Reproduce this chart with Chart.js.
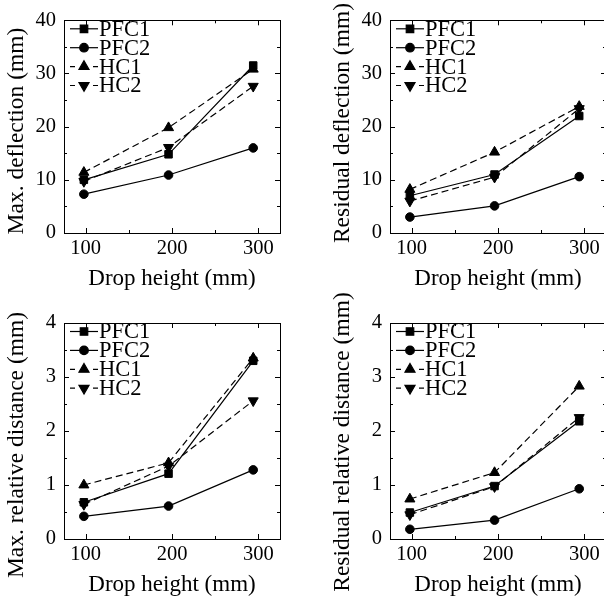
<!DOCTYPE html>
<html><head><meta charset="utf-8">
<script src="https://cdn.jsdelivr.net/npm/chart.js@4"></script>
<style>
html,body{margin:0;padding:0;background:#fff;overflow:hidden;width:604px;height:596px;position:relative;}
.panel{position:absolute;width:302px;}
canvas{display:block;}
</style></head><body>
<div class="panel" style="left:0;top:0"><canvas id="c1" width="302" height="293"></canvas></div>
<div class="panel" style="left:326px;top:0"><canvas id="c2" width="302" height="293"></canvas></div>
<div class="panel" style="left:0;top:290px"><canvas id="c3" width="302" height="309"></canvas></div>
<div class="panel" style="left:326px;top:290px"><canvas id="c4" width="302" height="309"></canvas></div>
<script>
// ---- data ----
const seriesNames = ["PFC1", "PFC2", "HC1", "HC2"];
const dropHeights = [98, 196, 294];
const xTickValues = [100, 200, 300];
const xMinorTicks = [150, 250];
const deflTicks = [0, 10, 20, 30, 40];
const deflMinor = [5, 15, 25, 35];
const distTicks = [0, 1, 2, 3, 4];
const distMinor = [0.5, 1.5, 2.5, 3.5];

const maxDefl_PFC1 = [10.0, 14.8, 31.5];
const maxDefl_PFC2 = [7.3, 10.9, 16.0];
const maxDefl_HC1 = [11.4, 19.8, 30.8];
const maxDefl_HC2 = [9.7, 16.1, 27.6];

const resDefl_PFC1 = [7.0, 11.0, 22.0];
const resDefl_PFC2 = [3.0, 5.1, 10.6];
const resDefl_HC1 = [8.2, 15.2, 23.8];
const resDefl_HC2 = [6.0, 10.5, 23.4];

const maxDist_PFC1 = [0.68, 1.21, 3.30];
const maxDist_PFC2 = [0.42, 0.61, 1.28];
const maxDist_HC1 = [1.00, 1.41, 3.35];
const maxDist_HC2 = [0.64, 1.35, 2.56];

const resDist_PFC1 = [0.49, 0.98, 2.18];
const resDist_PFC2 = [0.18, 0.35, 0.93];
const resDist_HC1 = [0.74, 1.23, 2.83];
const resDist_HC2 = [0.45, 0.97, 2.25];

// ---- styles ----
const FONT = "'Liberation Serif','Times New Roman',serif";
const pointStyles = ["rect", "circle", "triangle", "triangle"];
const pointRotations = [0, 0, 0, 180];
const pointRadii = [5.3, 4.3, 5.8, 5.8];
const dashes = [[], [], [7, 4], [7, 4]];

const framePlugin = {
  id: 'frameTicks',
  afterDraw(chart, args, opts) {
    const {ctx, chartArea: a, scales} = chart;
    const xs = scales.x, ys = scales.y;
    ctx.save();
    ctx.strokeStyle = '#000';
    ctx.lineWidth = 1;
    ctx.strokeRect(Math.round(a.left) + 0.5, Math.round(a.top) + 0.5, Math.round(a.right - a.left), Math.round(a.bottom - a.top));
    ctx.beginPath();
    const tick = (vals, len, horiz) => {
      vals.forEach(v => {
        if (horiz) {
          const px = Math.round(xs.getPixelForValue(v)) + 0.5;
          ctx.moveTo(px, a.bottom); ctx.lineTo(px, a.bottom - len);
          ctx.moveTo(px, a.top); ctx.lineTo(px, a.top + len);
        } else {
          const py = Math.round(ys.getPixelForValue(v)) + 0.5;
          ctx.moveTo(a.left, py); ctx.lineTo(a.left + len, py);
          ctx.moveTo(a.right, py); ctx.lineTo(a.right - len, py);
        }
      });
    };
    tick(xTickValues, 5, true);
    tick(xMinorTicks, 3, true);
    tick(opts.yMajor, 5, false);
    tick(opts.yMinor, 3, false);
    ctx.stroke();
    // y title
    ctx.fillStyle = '#000';
    ctx.font = '23.5px ' + FONT;
    ctx.textAlign = 'center';
    ctx.textBaseline = 'middle';
    ctx.translate(opts.titleX, opts.titleY);
    ctx.rotate(-Math.PI / 2);
    ctx.fillText(opts.title, 0, 0);
    ctx.restore();
  }
};

const legendPlugin = {
  id: 'innerLegend',
  afterDatasetsDraw(chart, args, opts) {
    const {ctx, chartArea: a} = chart;
    ctx.save();
    chart.data.datasets.forEach((ds, i) => {
      const y = a.top + opts.top + i * opts.spacing;
      const x0 = a.left + 6, x1 = a.left + 34, xm = (x0 + x1) / 2;
      ctx.strokeStyle = '#000';
      ctx.lineWidth = 1.2;
      ctx.beginPath();
      if (ds.borderDash.length) {
        ctx.moveTo(x0, y); ctx.lineTo(x0 + 5, y);
        ctx.moveTo(x1 - 5, y); ctx.lineTo(x1, y);
      } else {
        ctx.moveTo(x0, y); ctx.lineTo(x1, y);
      }
      ctx.stroke();
      Chart.helpers.drawPoint(ctx, {
        pointStyle: ds.pointStyle, rotation: ds.pointRotation, radius: ds.pointRadius,
        borderWidth: 1
      }, xm, y);
      ctx.fillStyle = '#000';
      ctx.font = '22.5px ' + FONT;
      ctx.textAlign = 'left';
      ctx.textBaseline = 'middle';
      ctx.fillText(ds.label, a.left + 35, y + 1);
    });
    ctx.restore();
  }
};

function makeChart(id, yTitle, yMax, yMajor, yMinor, series, padTop, titleY) {
  const datasets = seriesNames.map((name, i) => ({
    label: name,
    data: dropHeights.map((x, j) => ({x: x, y: series[i][j]})),
    borderColor: '#000',
    backgroundColor: '#000',
    pointBackgroundColor: '#000',
    pointBorderColor: '#000',
    borderWidth: 1.2,
    borderDash: dashes[i],
    pointStyle: pointStyles[i],
    pointRotation: pointRotations[i],
    pointRadius: pointRadii[i],
    pointBorderWidth: 1,
    tension: 0,
    fill: false
  }));
  return new Chart(document.getElementById(id), {
    type: 'line',
    data: {datasets},
    plugins: [framePlugin, legendPlugin],
    options: {
      responsive: false,
      animation: false,
      events: [],
      layout: {padding: {top: padTop, right: 22, left: 0, bottom: 0}},
      plugins: {
        legend: {display: false},
        tooltip: {enabled: false},
        frameTicks: {yMajor, yMinor, title: yTitle, titleX: 16.5, titleY},
        innerLegend: {top: 8.5, spacing: 18.9}
      },
      scales: {
        x: {
          type: 'linear', min: 75, max: 325,
          afterBuildTicks: s => { s.ticks = xTickValues.map(v => ({value: v})); },
          afterFit: s => { s.height = 60; },
          grid: {display: false, drawTicks: false},
          border: {display: false},
          ticks: {color: '#000', font: {family: FONT, size: 20.5}, padding: 3, maxRotation: 0},
          title: {display: true, text: 'Drop height (mm)', color: '#000', font: {family: FONT, size: 23}, padding: {top: 0, bottom: 0}}
        },
        y: {
          type: 'linear', min: 0, max: yMax,
          afterBuildTicks: s => { s.ticks = yMajor.map(v => ({value: v})); },
          afterFit: s => { s.width = 64; },
          grid: {display: false, drawTicks: false},
          border: {display: false},
          ticks: {color: '#000', font: {family: FONT, size: 20.5}, padding: 8}
        }
      }
    }
  });
}

makeChart('c1', 'Max. deflection (mm)', 40, deflTicks, deflMinor,
  [maxDefl_PFC1, maxDefl_PFC2, maxDefl_HC1, maxDefl_HC2], 17, 131);
makeChart('c2', 'Residual deflection (mm)', 40, deflTicks, deflMinor,
  [resDefl_PFC1, resDefl_PFC2, resDefl_HC1, resDefl_HC2], 17, 123);
makeChart('c3', 'Max. relative distance (mm)', 4, distTicks, distMinor,
  [maxDist_PFC1, maxDist_PFC2, maxDist_HC1, maxDist_HC2], 33, 155);
makeChart('c4', 'Residual relative distance (mm)', 4, distTicks, distMinor,
  [resDist_PFC1, resDist_PFC2, resDist_HC1, resDist_HC2], 33, 152);
</script>
</body></html>
